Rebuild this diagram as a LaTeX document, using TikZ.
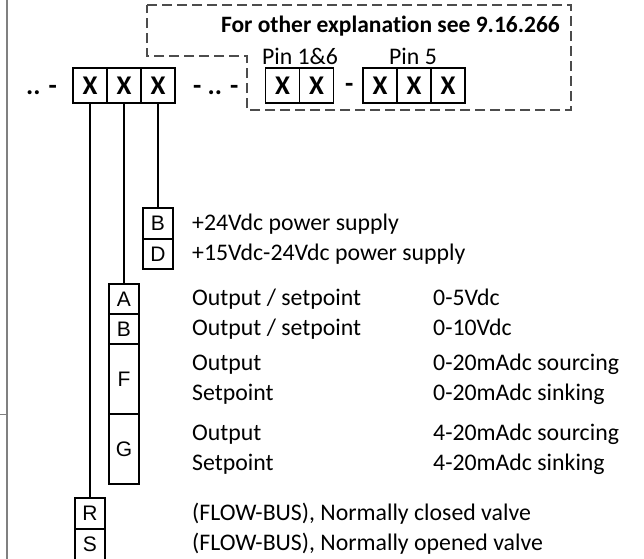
\documentclass[tikz,border=0pt]{standalone}
\usepackage{fontspec}
\setmainfont{Carlito}[Ligatures=NoCommon]
\newfontfamily\arialfont{Liberation Sans}
\begin{document}
\begin{tikzpicture}[x=1pt,y=-1pt,
  txt/.style={anchor=base west,inner sep=0pt,font=\fontsize{23.8}{28}\selectfont},
  hdr/.style={inner sep=0pt,font=\fontsize{23.5}{28}\selectfont\bfseries},
  dsh/.style={inner sep=0pt,anchor=base west,font=\fontsize{27}{30}\selectfont\bfseries},
  xbox/.style={draw,line width=1.7pt,minimum width=34pt,minimum height=35pt,inner sep=0pt,font=\fontsize{27}{30}\selectfont\bfseries},
  obox/.style={draw,line width=1.4pt,minimum width=30pt,minimum height=30pt,inner sep=0pt,font=\arialfont\fontsize{21}{24}\selectfont},
  conn/.style={line width=1.4pt},
  frame/.style={draw=gray!60!black,line width=1.3pt,dash pattern=on 10pt off 5pt}]
\useasboundingbox (0,0) rectangle (644,558);
% left gray border
\draw[gray,line width=2pt] (7,-2) -- (7,560);
\draw[gray,line width=1pt] (0,414) -- (7,414);
% dashed frame
\draw[frame] (147,5) -- (571,5) -- (571,110) -- (247,110) -- (247,56) -- (147,56) -- cycle;
\node[hdr,anchor=base east] (head) at (560,32) {For other explanation see 9.16.266};
\node[dsh] (d1) at (26,94) {.. -};
\node[dsh] (d2) at (193,94) {- .. -};
\node[dsh] (d3) at (345,92) {-};
% top boxes
\node[xbox] (x1) at (90,85.5) {X};
\node[xbox] (x2) at (124,85.5) {X};
\node[xbox] (x3) at (158,85.5) {X};
\node[xbox] (p1) at (282.5,85.5) {X};
\node[xbox] (p2) at (316.5,85.5) {X};
\node[xbox] (q1) at (380,85.5) {X};
\node[xbox] (q2) at (414,85.5) {X};
\node[xbox] (q3) at (448,85.5) {X};
\node[txt,anchor=base] (pin16) at (300,64) {Pin 1\&6};
\node[txt,anchor=base] (pin5) at (413,64) {Pin 5};
% option boxes
\node[obox,minimum height=31pt] (bB) at (158,223.5) {B};
\node[obox] (bD) at (158,254) {D};
\node[obox] (aA) at (124,299) {A};
\node[obox] (aB) at (124,329) {B};
\node[obox,minimum height=70pt] (aF) at (124,379) {F};
\node[obox,minimum height=70pt] (aG) at (124,449) {G};
\node[obox,minimum height=31pt] (rR) at (90,513.5) {R};
\node[obox,minimum height=31pt] (rS) at (90,544.5) {S};
% connectors
\draw[conn] (x1.south) -- (rR.north);
\draw[conn] (x2.south) -- (aA.north);
\draw[conn] (x3.south) -- (bB.north);
% texts
\node[txt] (t1) at (192,230.5) {+24Vdc power supply};
\node[txt] (t2) at (192,260.5) {+15Vdc-24Vdc power supply};
\node[txt] (t3) at (192,305.5) {Output / setpoint};
\node[txt] (t4) at (192,335.5) {Output / setpoint};
\node[txt] (t5) at (192,370.5) {Output};
\node[txt] (t6) at (192,400.5) {Setpoint};
\node[txt] (t7) at (192,440.5) {Output};
\node[txt] (t8) at (192,470.5) {Setpoint};
\node[txt] (t9) at (192,520.5) {(FLOW-BUS), Normally closed valve};
\node[txt] (t10) at (192,550.5) {(FLOW-BUS), Normally opened valve};
\node[txt] (v3) at (433,305.5) {0-5Vdc};
\node[txt] (v4) at (433,335.5) {0-10Vdc};
\node[txt] (v5) at (433,370.5) {0-20mAdc sourcing};
\node[txt] (v6) at (433,400.5) {0-20mAdc sinking};
\node[txt] (v7) at (433,440.5) {4-20mAdc sourcing};
\node[txt] (v8) at (433,470.5) {4-20mAdc sinking};
\end{tikzpicture}
\end{document}
